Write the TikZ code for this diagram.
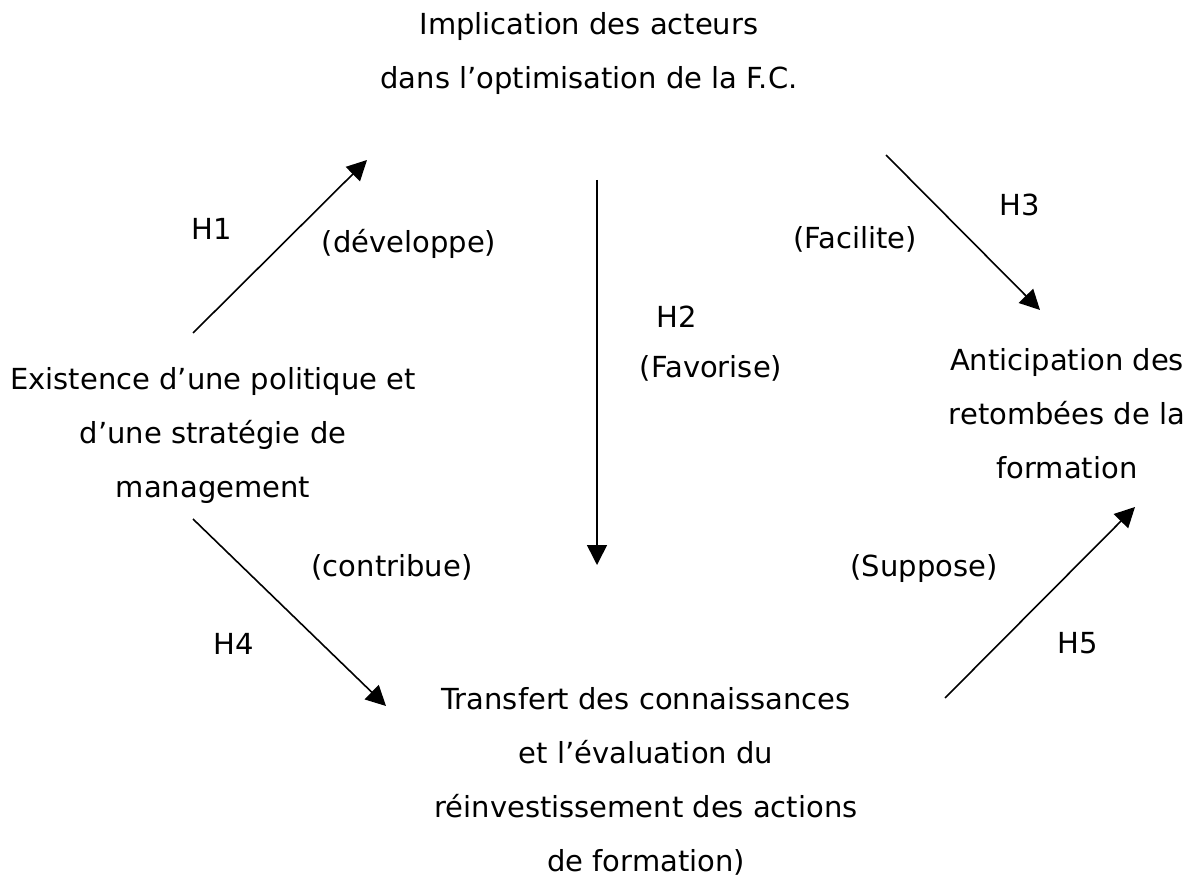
\documentclass[tikz,border=0pt]{standalone}
\usepackage{fontspec}
\setmainfont{DejaVu Sans}
\usetikzlibrary{arrows.meta}
\usetikzlibrary{positioning}

\begin{document}
\begin{tikzpicture}
		[x=0.5pt,y=-0.5pt,
		font=\fontsize{14.5}{27}\selectfont
		]
		
		% Node styles: blocks of text and the labels of the arrows
		\tikzstyle{text node}=[align=center,inner sep=0,anchor=base];
		\tikzstyle{label node}=[inner sep=0,anchor=base];
		\tikzstyle{hyp arrow}=[line width=0.8pt,-{Triangle[length=10pt,width=10pt]}];
		
		\useasboundingbox (0,0) rectangle (1197,876);
		
		% The four concepts (placed at the baseline of their last line)
		\node(impl)[text node]at(589,89){Implication des acteurs\\dans l’optimisation de la F.C.};
		\node(exist)[text node]at(213,497){Existence d’une politique et\\d’une stratégie de\\management};
		\node(antic)[text node]at(1067,478){Anticipation des\\retombées de la\\formation};
		\node(trans)[text node]at(646,871){Transfert des connaissances\\et l’évaluation du\\réinvestissement des actions\\de formation)};
		
		% End points of the arrows
		\coordinate(h1a)at(193,333);  \coordinate(h1b)at(367,160);
		\coordinate(h2a)at(597,180);  \coordinate(h2b)at(597,565);
		\coordinate(h3a)at(886,155);  \coordinate(h3b)at(1040,310);
		\coordinate(h4a)at(193,519);  \coordinate(h4b)at(386,706);
		\coordinate(h5a)at(945,698);  \coordinate(h5b)at(1135,507);
		
		% The arrows
		\draw[hyp arrow](h1a)--(h1b);
		\draw[hyp arrow](h2a)--(h2b);
		\draw[hyp arrow](h3a)--(h3b);
		\draw[hyp arrow](h4a)--(h4b);
		\draw[hyp arrow](h5a)--(h5b);
		
		% Hypotheses
		\node(lh1)[label node]at(212,240){H1};
		\node(lh2)[label node]at(677,328){H2};
		\node(lh3)[label node]at(1020,216){H3};
		\node(lh4)[label node]at(234,654){H4};
		\node(lh5)[label node]at(1078,653){H5};
		
		% Verbs
		\node(vh1)[label node]at(409,253){(développe)};
		\node(vh2)[label node]at(711,378){(Favorise)};
		\node(vh3)[label node]at(855,249){(Facilite)};
		\node(vh4)[label node]at(392,576){(contribue)};
		\node(vh5)[label node]at(924,576){(Suppose)};
		\end{tikzpicture}
\end{document}
